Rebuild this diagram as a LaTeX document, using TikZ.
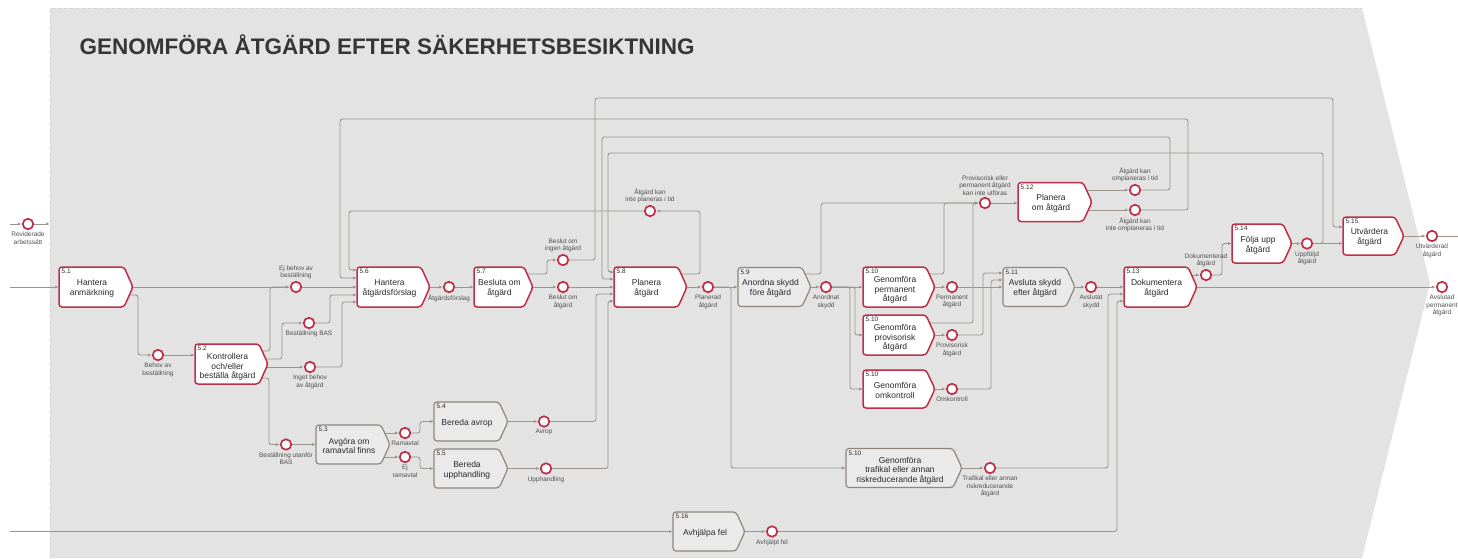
\documentclass[tikz,border=0pt]{standalone}
\usepackage{fontspec}
\setmainfont{Liberation Sans}
\usetikzlibrary{calc,arrows.meta}
\definecolor{crim}{HTML}{BE2F48}
\definecolor{gbord}{HTML}{8E867E}
\definecolor{gfill}{HTML}{EAEAEA}
\definecolor{bgc}{HTML}{E3E3E3}
\definecolor{lc}{HTML}{9C958D}
\definecolor{txt}{HTML}{2A2A2A}
\definecolor{ltxt}{HTML}{505050}
\definecolor{ttl}{HTML}{363636}
\pgfdeclarelayer{back}\pgfdeclarelayer{conn}\pgfsetlayers{back,conn,main}
\tikzset{
 pnode/.style={rectangle, inner sep=0pt, outer sep=0pt, draw=none},
 redbox/.style={draw=crim, fill=white, line width=1.5pt, rounded corners=3pt},
 graybox/.style={draw=gbord, fill=gfill, line width=1.2pt, rounded corners=3pt},
 numtxt/.style={inner sep=0pt, font=\fontsize{6.5}{7}\selectfont, text=txt},
 boxtxt/.style={inner sep=0pt, align=center, font=\fontsize{8.5}{9.6}\selectfont, text=txt},
 circ/.style={circle, draw=crim, fill=white, line width=1.7pt, minimum size=10.5pt, inner sep=0pt},
 lbl/.style={inner sep=1.5pt, align=center, font=\fontsize{6.5}{7.5}\selectfont, text=ltxt},
 conn/.style={draw=lc, line width=0.9pt, rounded corners=2.5pt, -{Latex[length=4pt,width=3pt]}},
 plainc/.style={draw=lc, line width=0.9pt, rounded corners=2.5pt},
}
% #1 text y-offset, #2 name, #3 style, #4 cx, #5 cy, #6 w, #7 h, #8 number, #9 text
\newcommand\pbox[9][1.5]{%
  \node[pnode, minimum width=#6pt, minimum height=#7pt] (#2) at (#4,#5) {};
  \draw[#3] (#2.north west) -- ($(#2.north east)+(-9,0)$) -- (#2.east) -- ($(#2.south east)+(-9,0)$) -- (#2.south west) -- cycle;
  \node[numtxt, anchor=north west] (#2n) at ($(#2.north west)+(2.5,2)$) {#8};
  \node[boxtxt] (#2t) at ($(#2.center)+(-4,#1)$) {#9};
}
\begin{document}
\begin{tikzpicture}[x=1pt,y=-1pt]
\useasboundingbox (0,0) rectangle (1458,558);
\begin{pgfonlayer}{back}
\fill[white] (0,0) rectangle (1458,558);
\fill[bgc] (50,8) -- (1362,8) -- (1430,283) -- (1362,558) -- (50,558) -- cycle;
\draw[black!18, dashed, line width=0.4pt] (50,558) -- (50,8) -- (1362,8);
\end{pgfonlayer}

\node[anchor=west, font=\bfseries\fontsize{22.5}{26}\selectfont, text=ttl] (title) at (76,45) {GENOMFÖRA ÅTGÄRD EFTER SÄKERHETSBESIKTNING};

% process boxes
\pbox{b51}{redbox}{96}{287}{74}{40}{5.1}{Hantera\\anmärkning}
\pbox[3]{b52}{redbox}{231.5}{364}{73}{40}{5.2}{Kontrollera\\och/eller\\beställa åtgärd}
\pbox{b53}{graybox}{353}{444.5}{74}{39}{5.3}{Avgöra om\\ramavtal finns}
\pbox{b54}{graybox}{471}{421.5}{74}{39}{5.4}{Bereda avrop}
\pbox{b55}{graybox}{471}{468.5}{74}{39}{5.5}{Bereda\\upphandling}
\pbox{b56}{redbox}{393.5}{287}{73}{40}{5.6}{Hantera\\åtgärdsförslag}
\pbox{b57}{redbox}{503.5}{287}{59}{40}{5.7}{Besluta om\\åtgärd}
\pbox{b58}{redbox}{650.5}{287}{73}{40}{5.8}{Planera\\åtgärd}
\pbox{b59}{graybox}{774.5}{287}{73}{39}{5.9}{Anordna skydd\\före åtgärd}
\pbox[3]{b510p}{redbox}{899}{287}{72}{40}{5.10}{Genomföra\\permanent\\åtgärd}
\pbox[3]{b510v}{redbox}{899}{335}{72}{40}{5.10}{Genomföra\\provisorisk\\åtgärd}
\pbox{b510o}{redbox}{899}{389}{72}{38}{5.10}{Genomföra\\omkontroll}
\pbox{b511}{graybox}{1039}{287}{72}{39}{5.11}{Avsluta skydd\\efter åtgärd}
\pbox{b512}{redbox}{1055}{202}{74}{39}{5.12}{Planera\\om åtgärd}
\pbox{b513}{redbox}{1160.5}{287}{73}{40}{5.13}{Dokumentera\\åtgärd}
\pbox{b514}{redbox}{1262}{243.5}{60}{39}{5.14}{Följa upp\\åtgärd}
\pbox{b515}{redbox}{1373.5}{236}{61}{38}{5.15}{Utvärdera\\åtgärd}
\pbox[2.5]{b510t}{graybox}{904}{468}{116}{39}{5.10}{Genomföra\\trafikal eller annan\\riskreducerande åtgärd}
\pbox{b516}{graybox}{709}{531.5}{72}{39}{5.16}{Avhjälpa fel}

% events
\node[circ] (cRev) at (28,224) {};
\node[circ] (cEjBehov) at (296,287) {};
\node[circ] (cBestBAS) at (309,323) {};
\node[circ] (cBehov) at (158,355) {};
\node[circ] (cIngen) at (310,367) {};
\node[circ] (cUtanfor) at (286,444.5) {};
\node[circ] (cRamavtal) at (405,433) {};
\node[circ] (cEjRam) at (405,457) {};
\node[circ] (cAvrop) at (544,421.5) {};
\node[circ] (cUpph) at (546,468.5) {};
\node[circ] (cForslag) at (449,287) {};
\node[circ] (cIngenAtg) at (563,260) {};
\node[circ] (cBeslut) at (563,287) {};
\node[circ] (cKanInte) at (650,211) {};
\node[circ] (cPlanerad) at (708,287) {};
\node[circ] (cAnordnat) at (826,287) {};
\node[circ] (cPerm) at (952,287) {};
\node[circ] (cProv) at (952,335) {};
\node[circ] (cOmk) at (952,389) {};
\node[circ] (cKanInteUtf) at (985,203) {};
\node[circ] (cOmpl) at (1135,190) {};
\node[circ] (cInteOmpl) at (1135,210) {};
\node[circ] (cAvslSkydd) at (1091,287) {};
\node[circ] (cTrafik) at (990,468) {};
\node[circ] (cAvhjalpt) at (772,531.5) {};
\node[circ] (cDok) at (1206,275) {};
\node[circ] (cUppf) at (1307,243.5) {};
\node[circ] (cUtv) at (1432,236) {};
\node[circ] (cAvslPerm) at (1442,287) {};

\coordinate (revA) at (10,224);
\coordinate (revB) at (50,224);
\coordinate (in51) at (10,287);
\coordinate (in516) at (10,531.5);
\coordinate (utvEnd) at (1458,236);

% event labels
\node[lbl, anchor=north] (lRev) at (cRev.south) {Reviderade\\arbetssätt};
\node[lbl, anchor=south] (lEjBehov) at (cEjBehov.north) {Ej behov av\\beställning};
\node[lbl, anchor=north] (lBestBAS) at (cBestBAS.south) {Beställning BAS};
\node[lbl, anchor=north] (lBehov) at (cBehov.south) {Behov av\\beställning};
\node[lbl, anchor=north] (lIngen) at (cIngen.south) {Inget behov\\av åtgärd};
\node[lbl, anchor=north] (lUtanfor) at (cUtanfor.south) {Beställning utanför\\BAS};
\node[lbl, anchor=north] (lRamavtal) at (cRamavtal.south) {Ramavtal};
\node[lbl, anchor=north] (lEjRam) at (cEjRam.south) {Ej\\ramavtal};
\node[lbl, anchor=north] (lAvrop) at (cAvrop.south) {Avrop};
\node[lbl, anchor=north] (lUpph) at (cUpph.south) {Upphandling};
\node[lbl, anchor=north] (lForslag) at (cForslag.south) {Åtgärdsförslag};
\node[lbl, anchor=south] (lIngenAtg) at (cIngenAtg.north) {Beslut om\\ingen åtgärd};
\node[lbl, anchor=north] (lBeslut) at (cBeslut.south) {Beslut om\\åtgärd};
\node[lbl, anchor=south] (lKanInte) at (cKanInte.north) {Åtgärd kan\\inte planeras i tid};
\node[lbl, anchor=north] (lPlanerad) at (cPlanerad.south) {Planerad\\åtgärd};
\node[lbl, anchor=north] (lAnordnat) at (cAnordnat.south) {Anordnat\\skydd};
\node[lbl, anchor=north] (lPerm) at (cPerm.south) {Permanent\\åtgärd};
\node[lbl, anchor=north] (lProv) at (cProv.south) {Provisorisk\\åtgärd};
\node[lbl, anchor=north] (lOmk) at (cOmk.south) {Omkontroll};
\node[lbl, anchor=south] (lKanInteUtf) at (cKanInteUtf.north) {Provisorisk eller\\permanent åtgärd\\kan inte utföras};
\node[lbl, anchor=south] (lOmpl) at (cOmpl.north) {Åtgärd kan\\omplaneras i tid};
\node[lbl, anchor=north] (lInteOmpl) at (cInteOmpl.south) {Åtgärd kan\\inte omplaneras i tid};
\node[lbl, anchor=north] (lAvslSkydd) at (cAvslSkydd.south) {Avslutat\\skydd};
\node[lbl, anchor=north] (lTrafik) at (cTrafik.south) {Trafikal eller annan\\riskreducerande\\åtgärd};
\node[lbl, anchor=north] (lAvhjalpt) at (cAvhjalpt.south) {Avhjälpt fel};
\node[lbl, anchor=south] (lDok) at (cDok.north) {Dokumenterad\\åtgärd};
\node[lbl, anchor=north] (lUppf) at (cUppf.south) {Uppföljd\\åtgärd};
\node[lbl, anchor=north] (lUtv) at (cUtv.south) {Utvärderad\\åtgärd};
\node[lbl, anchor=north] (lAvslPerm) at (cAvslPerm.south) {Avslutad\\permanent\\åtgärd};

% connectors
\begin{pgfonlayer}{conn}
\draw[conn] (revA) -- (cRev);
\draw[conn] (cRev) -- (revB);
\draw[conn] (in51) -- (b51.west);
\draw[conn] (b51.east) -- (cEjBehov);
\draw[conn] ($(b51.east)+(-3.6,8)$) -| (138,320) |- (cBehov);
\draw[conn] (cBehov) -- (cBehov -| b52.west);
\draw[conn] ($(b52.east)+(-5.85,-13)$) -| (270,300) |- (cEjBehov);
\draw[conn] ($(b52.east)+(-2.25,-5)$) -| (282,340) |- (cBestBAS);
\draw[conn] ($(b52.east)+(-1.35,3)$) -- (cIngen);
\draw[conn] ($(b52.east)+(-6.3,14)$) -| (269,420) |- (cUtanfor);
\draw[conn] (cEjBehov) -- (b56.west);
\draw[conn] (cBestBAS) -| (330,310) |- ($(b56.west)+(0,8)$);
\draw[conn] (cIngen) -| (342,330) |- ($(b56.west)+(0,15)$);
\draw[conn] (cKanInte) -| (349,240) |- ($(b56.west)+(0,-17)$);
\draw[conn] (cInteOmpl) -| (1188,160) |- (340,119) |- ($(b56.west)+(0,-9)$);
\draw[conn] (cUtanfor) -- (b53.west);
\draw[conn] ($(b53.east)+(-5.3,-11.5)$) -- (cRamavtal);
\draw[conn] ($(b53.east)+(-5.8,12.5)$) -- (cEjRam);
\draw[conn] (cRamavtal) -| (420,428) |- (b54.west);
\draw[conn] (cEjRam) -| (420,462) |- (b55.west);
\draw[conn] (b54.east) -- (cAvrop);
\draw[conn] (b55.east) -- (cUpph);
\draw[conn] (cAvrop) -| (596,350) |- ($(b58.west)+(0,7)$);
\draw[conn] (cUpph) -| (608,400) |- ($(b58.west)+(0,14)$);
\draw[conn] (b56.east) -- (cForslag);
\draw[conn] (cForslag) -- (b57.west);
\draw[conn] (b57.east) -- (cBeslut);
\draw[conn] (cBeslut) -- (b58.west);
\draw[conn] ($(b57.east)+(-5.85,-13)$) -| (547,268) |- (cIngenAtg);
\draw[conn] (cIngenAtg) -| (595,150) |- (1333,98) |- ($(b515.west)+(0,-9)$);
\draw[conn] ($(b58.east)+(-5.85,-13)$) -| (700,240) |- (cKanInte);
\draw[conn] (b58.east) -- (cPlanerad);
\draw[conn] (cPlanerad) -- (b59.west);
\draw[conn] (cPlanerad) -| (731,400) |- (b510t.west);
\draw[conn] (cOmpl) -| (1170,160) |- (602,137) |- ($(b58.west)+(0,-8)$);
\draw[conn] (cUppf) -| (1323,200) |- (608,153) |- ($(b58.west)+(0,-15)$);
\draw[conn] (b59.east) -- (cAnordnat);
\draw[conn] ($(b59.east)+(-6,-13)$) -| (821,240) |- (cKanInteUtf);
\draw[conn] (cAnordnat) -- (b510p.west);
\draw[conn] (cAnordnat) -| (855,310) |- (b510v.west);
\draw[conn] (cAnordnat) -| (850,340) |- (b510o.west);
\draw[conn] (b510p.east) -- (cPerm);
\draw[conn] ($(b510p.east)+(-5.85,-13)$) -| (944,240) |- (cKanInteUtf);
\draw[conn] ($(b510v.east)+(-5.4,-12)$) -| (973,260) |- (cKanInteUtf);
\draw[conn] (b510v.east) -- (cProv);
\draw[conn] (b510o.east) -- (cOmk);
\draw[conn] (cPerm) -- (b511.west);
\draw[conn] (cProv) -| (983,300) |- ($(b511.west)+(0,-14)$);
\draw[conn] (cOmk) -| (991,330) |- ($(b511.west)+(0,-7)$);
\draw[conn] (cKanInteUtf) -- (cKanInteUtf -| b512.west);
\draw[conn] ($(b512.east)+(-5.5,-12)$) -- (cOmpl);
\draw[conn] ($(b512.east)+(-3.7,8)$) -- (cInteOmpl);
\draw[conn] (b511.east) -- (cAvslSkydd);
\draw[conn] (cAvslSkydd) -- (b513.west);
\draw[conn] (b510t.east) -- (cTrafik);
\draw[conn] (cTrafik) -| (1108,380) |- ($(b513.west)+(0,7)$);
\draw[conn] (in516) -- (b516.west);
\draw[conn] (b516.east) -- (cAvhjalpt);
\draw[conn] (cAvhjalpt) -| (1117,420) |- ($(b513.west)+(0,14)$);
\draw[conn] (b513.east) -- (cAvslPerm);
\draw[conn] ($(b513.east)+(-5.4,-12)$) -- (cDok);
\draw[conn] (cDok) -| (1222,260) |- (b514.west);
\draw[conn] (b514.east) -- (cUppf);
\draw[conn] (cUppf) -- (cUppf -| b515.west);
\draw[conn] (b515.east) -- (cUtv);
\draw[plainc] (cUtv) -- (utvEnd);
\end{pgfonlayer}
\end{tikzpicture}
\end{document}
